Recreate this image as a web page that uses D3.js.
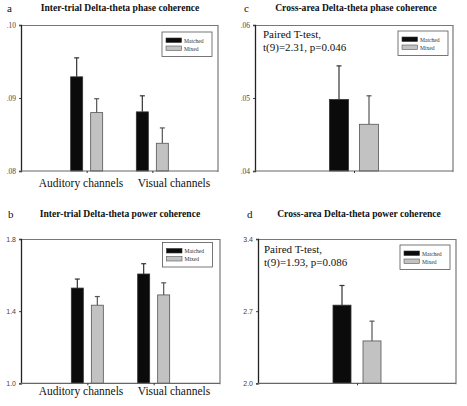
<!DOCTYPE html>
<html><head><meta charset="utf-8">
<script src="https://cdn.jsdelivr.net/npm/d3@7"></script>
<style>body{margin:0;background:#fff}svg{display:block}</style>
</head><body>
<svg id="chart" width="467" height="406"></svg>
<script>
// ---- data ----
const seriesNames = ["Matched", "Mixed"];
const groupCats = ["Auditory channels", "Visual channels"];
const singleCat = [""];

const phaseITMatched = [0.0929, 0.0881];
const phaseITMatchedErr = [0.0955, 0.0903];
const phaseITMixed = [0.0880, 0.0838];
const phaseITMixedErr = [0.0899, 0.0859];
const phaseITTicks = [0.08, 0.09, 0.10];
const phaseITTickLabels = [".08", ".09", ".10"];

const powerITMatched = [1.528, 1.606];
const powerITMatchedErr = [1.578, 1.663];
const powerITMixed = [1.433, 1.490];
const powerITMixedErr = [1.481, 1.557];
const powerITTicks = [1.0, 1.4, 1.8];
const powerITTickLabels = ["1.0", "1.4", "1.8"];

const phaseCAMatched = [0.0498];
const phaseCAMatchedErr = [0.0544];
const phaseCAMixed = [0.0464];
const phaseCAMixedErr = [0.0503];
const phaseCATicks = [0.04, 0.05, 0.06];
const phaseCATickLabels = [".04", ".05", ".06"];

const powerCAMatched = [2.758];
const powerCAMatchedErr = [2.949];
const powerCAMixed = [2.411];
const powerCAMixedErr = [2.603];
const powerCATicks = [2.0, 2.7, 3.4];
const powerCATickLabels = ["2.0", "2.7", "3.4"];

const titles = {
  a: "Inter-trial Delta-theta phase coherence",
  b: "Inter-trial Delta-theta power coherence",
  c: "Cross-area Delta-theta phase coherence",
  d: "Cross-area Delta-theta power coherence"
};
const statsC = ["Paired T-test,", "t(9)=2.31, p=0.046"];
const statsD = ["Paired T-test,", "t(9)=1.93, p=0.086"];

// ---- drawing ----
const svg = d3.select("#chart");
const serif = "'Liberation Serif', 'Times New Roman', serif";
const sans = "'Liberation Sans', Arial, sans-serif";

function panel(o) {
  const g = svg.append("g");
  const y = d3.scaleLinear().domain([o.ticks[0], o.ticks[o.ticks.length - 1]]).range([o.bottom, o.top]);
  const x = d3.scalePoint().domain(o.cats).range([o.left, o.right]).padding(1);
  const xs = d3.scaleBand().domain(seriesNames).range([-o.off - o.bw / 2, o.off + o.bw / 2]).paddingInner((2 * o.off - o.bw) / (2 * o.off));

  // frame: top & right
  g.append("line").attr("x1", o.left).attr("x2", o.right).attr("y1", o.top + 0.5).attr("y2", o.top + 0.5).attr("stroke", "#777").attr("stroke-width", 1.2);
  g.append("line").attr("x1", o.right).attr("x2", o.right).attr("y1", o.top).attr("y2", o.bottom + 1).attr("stroke", "#777").attr("stroke-width", 1.2);

  const series = [
    {name: "Matched", v: o.matched, e: o.matchedErr, fill: "#0b0b0b", stroke: "#333"},
    {name: "Mixed", v: o.mixed, e: o.mixedErr, fill: "#c2c2c2", stroke: "#555"}
  ];
  series.forEach(s => {
    o.cats.forEach((c, i) => {
      const bx = x(c) + xs(s.name);
      const cx = bx + o.bw / 2;
      g.append("line").attr("x1", cx).attr("x2", cx).attr("y1", y(s.v[i])).attr("y2", y(s.e[i])).attr("stroke", s.stroke).attr("stroke-width", 1.2);
      g.append("line").attr("x1", cx - 2.5).attr("x2", cx + 2.5).attr("y1", y(s.e[i])).attr("y2", y(s.e[i])).attr("stroke", s.stroke).attr("stroke-width", 1.2);
      g.append("rect").attr("x", bx).attr("y", y(s.v[i])).attr("width", o.bw).attr("height", y(o.ticks[0]) - y(s.v[i]))
        .attr("fill", s.fill).attr("stroke", s.stroke).attr("stroke-width", 0.8);
    });
  });

  // y axis
  const ya = d3.axisLeft(y).tickValues(o.ticks).tickSize(2).tickPadding(3)
    .tickFormat((d, i) => o.tickLabels[i]);
  const yg = g.append("g").attr("transform", `translate(${o.left},0)`).call(ya);
  yg.select(".domain").attr("stroke", "#222").attr("stroke-width", 1.3);
  yg.selectAll(".tick line").attr("stroke", "#444");
  yg.selectAll("text").attr("font-family", o.tickFont).attr("font-size", o.tickSize).attr("fill", "#444").attr("dy", "0.35em");

  // x axis
  const xa = d3.axisBottom(x).tickSize(2).tickFormat("");
  const xg = g.append("g").attr("transform", `translate(0,${o.bottom})`).call(xa);
  xg.select(".domain").attr("stroke", "#666").attr("stroke-width", 1.2).attr("d", `M${o.left},0H${o.right}`);
  xg.selectAll(".tick line").attr("stroke", "#333");

  if (o.catLabels) {
    o.cats.forEach((c, i) => {
      g.append("text").attr("x", o.catX[i]).attr("y", o.catY).attr("text-anchor", "middle")
        .attr("font-family", serif).attr("font-size", 11.5).attr("fill", "#111").text(c);
    });
  }

  // title & letter
  g.append("text").attr("x", o.titleX).attr("y", o.titleY).attr("text-anchor", "middle")
    .attr("font-family", serif).attr("font-weight", "bold").attr("font-size", 9.6).attr("fill", "#111").text(o.title);
  g.append("text").attr("x", o.letterX).attr("y", o.titleY + 1).attr("font-family", serif)
    .attr("font-size", 11).attr("fill", "#111").text(o.letter);

  // legend
  const lg = g.append("g").attr("transform", `translate(${o.legX},${o.legY})`);
  lg.append("rect").attr("width", 50).attr("height", 24.5).attr("fill", "#fff").attr("stroke", "#555").attr("stroke-width", 0.8);
  series.forEach((s, i) => {
    lg.append("rect").attr("x", 4).attr("y", 6 + i * 8).attr("width", 15.5).attr("height", 4.5)
      .attr("fill", s.fill).attr("stroke", s.stroke).attr("stroke-width", 0.6);
    lg.append("text").attr("x", 22).attr("y", 10.5 + i * 8).attr("font-family", serif).attr("font-size", 5.6)
      .attr("fill", "#333").text(s.name);
  });

  if (o.stats) {
    o.stats.forEach((t, i) => {
      g.append("text").attr("x", o.statX).attr("y", o.statY + i * 13.3).attr("font-family", serif)
        .attr("font-size", 11).attr("fill", "#111").text(t);
    });
  }
}

panel({letter: "a", title: titles.a, titleX: 120, titleY: 11, letterX: 7,
  left: 21, right: 218, top: 25, bottom: 171, bw: 12, off: 10,
  cats: groupCats, catLabels: true, catX: [81, 174], catY: 187,
  matched: phaseITMatched, matchedErr: phaseITMatchedErr, mixed: phaseITMixed, mixedErr: phaseITMixedErr,
  ticks: phaseITTicks, tickLabels: phaseITTickLabels, tickFont: serif, tickSize: 7.5,
  legX: 162, legY: 32});

panel({letter: "b", title: titles.b, titleX: 120, titleY: 216.5, letterX: 8,
  left: 21, right: 220, top: 239, bottom: 383.3, bw: 12, off: 10,
  cats: groupCats, catLabels: true, catX: [81, 174], catY: 395,
  matched: powerITMatched, matchedErr: powerITMatchedErr, mixed: powerITMixed, mixedErr: powerITMixedErr,
  ticks: powerITTicks, tickLabels: powerITTickLabels, tickFont: sans, tickSize: 7,
  legX: 162.5, legY: 242.5});

panel({letter: "c", title: titles.c, titleX: 356, titleY: 11, letterX: 244,
  left: 255, right: 453, top: 25, bottom: 171, bw: 19, off: 15,
  cats: singleCat, catLabels: false,
  matched: phaseCAMatched, matchedErr: phaseCAMatchedErr, mixed: phaseCAMixed, mixedErr: phaseCAMixedErr,
  ticks: phaseCATicks, tickLabels: phaseCATickLabels, tickFont: serif, tickSize: 7.5,
  legX: 398, legY: 31, stats: statsC, statX: 263, statY: 38});

panel({letter: "d", title: titles.d, titleX: 359, titleY: 216.5, letterX: 247,
  left: 258, right: 456, top: 239, bottom: 383.3, bw: 18, off: 15,
  cats: singleCat, catLabels: false,
  matched: powerCAMatched, matchedErr: powerCAMatchedErr, mixed: powerCAMixed, mixedErr: powerCAMixedErr,
  ticks: powerCATicks, tickLabels: powerCATickLabels, tickFont: sans, tickSize: 7,
  legX: 400, legY: 245, stats: statsD, statX: 264, statY: 252.5});
</script>
</body></html>
